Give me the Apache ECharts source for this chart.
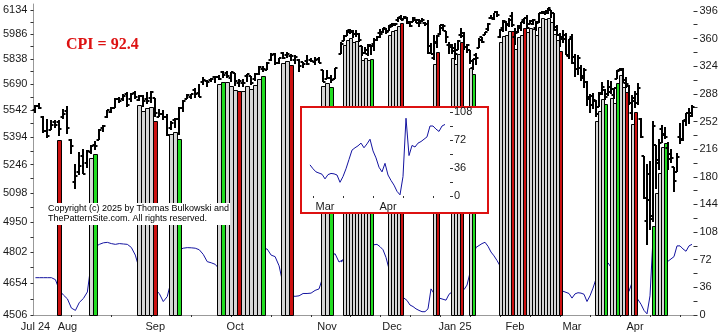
<!DOCTYPE html>
<html>
<head>
<meta charset="utf-8">
<script src="https://cdn.jsdelivr.net/npm/echarts@6/dist/echarts.min.js"></script>
<style>
html,body{margin:0;padding:0;background:#fff;}
#chart{width:725px;height:334px;}
</style>
</head>
<body>
<div id="chart"></div>
<script>
// ---------------- data ----------------
const monthLabels = ['Jul 24','Aug','Sep','Oct','Nov','Dec','Jan 25','Feb','Mar','Apr'];
const monthStart  = [0, 8, 30, 50, 73, 93, 114, 134, 153, 174];

const openP = [
5544,5565,5505,5429,5434,5476,5479,5505,5537,5376,
5152,5206,5293,5253,5312,5351,5376,5442,5502,5531,
5557,5603,5603,5637,5603,5640,5602,5624,5607,5613,
5612,5506,5524,5507,5442,5490,5496,5557,5603,5615,
5655,5641,5703,5709,5713,5733,5733,5762,5756,5727,
5757,5698,5698,5738,5737,5719,5752,5778,5775,5829,
5866,5816,5875,5859,5857,5833,5834,5817,5826,5831,
5819,5835,5775,5723,5725,5722,
5865,5947,5977,6009,6004,5986,5989,5913,5874,5866,
5920,5924,5949,5992,6000,6015,6003,6040,6042,6069,
6089,6081,6083,6057,6060,6074,6069,6063,6052,6047,
5912,5843,5941,5984,6024,6006,5921,5920,5903,5892,
5982,5993,5910,5890,5782,5859,5905,5967,5983,6014,
6082,6076,6121,5969,6026,6058,6050,6096,5969,5998,
6021,6072,6083,6047,6050,6025,6060,6115,6121,6117,
6134,6114,6027,5983,5970,5982,5857,5968,5812,5781,
5786,5726,5705,5604,5624,5594,5563,5636,5655,5632,
5646,5630,5718,5775,5771,5696,5679,5527,5597,5581,
5493,5292,4953,5194,4966,5353,5256,5441,5411,5335,
5305,5233,5207,5396,5381,5489,5529,5508];

const highP = [
5570,5585,5508,5492,5488,5487,5489,5551,5566,5384,
5250,5312,5330,5326,5351,5371,5436,5463,5546,5563,
5609,5620,5633,5643,5641,5651,5628,5628,5646,5651,
5613,5552,5546,5522,5484,5497,5560,5600,5637,5636,
5670,5690,5733,5716,5726,5736,5741,5767,5764,5762,
5757,5720,5718,5752,5739,5757,5796,5796,5822,5871,
5871,5842,5879,5878,5866,5863,5835,5817,5862,5842,
5848,5851,5775,5772,5741,5784,
5937,5983,6012,6018,6009,6009,5993,5916,5909,5925,
5921,5963,5973,6020,6025,6021,6044,6053,6052,6089,
6100,6099,6088,6065,6092,6079,6079,6085,6057,6070,
5935,5982,5978,6040,6049,6006,5941,5929,5935,5949,
6021,6001,5928,5890,5838,5871,5961,5968,6000,6051,
6100,6118,6128,6018,6069,6063,6086,6120,6022,6042,
6062,6084,6101,6073,6076,6063,6116,6127,6130,6147,
6134,6115,6043,5992,6009,5994,5959,5986,5865,5860,
5803,5784,5706,5636,5642,5598,5645,5703,5660,5715,
5711,5670,5775,5787,5783,5732,5685,5627,5651,5695,
5500,5293,5247,5267,5481,5353,5381,5460,5450,5367,
5329,5233,5309,5470,5489,5528,5554,5571];

const lowP = [
5528,5550,5419,5390,5434,5444,5398,5493,5410,5302,
5120,5193,5195,5228,5301,5324,5376,5420,5501,5525,
5555,5585,5592,5560,5590,5603,5594,5560,5576,5582,
5504,5503,5486,5402,5434,5442,5406,5535,5603,5604,
5614,5615,5687,5675,5704,5698,5712,5728,5727,5704,
5681,5675,5674,5703,5683,5709,5745,5762,5775,5824,
5804,5808,5835,5846,5825,5809,5762,5784,5799,5822,
5800,5813,5703,5723,5697,5722,
5865,5946,5976,5986,5960,5969,5941,5854,5866,5852,
5860,5885,5944,5963,5993,5985,6003,6030,6034,6062,
6075,6079,6048,6029,6059,6051,6029,6059,6035,5867,
5866,5832,5903,5983,6007,5932,5869,5868,5829,5888,
5960,5890,5874,5809,5773,5802,5905,5933,5978,6006,
6076,6075,6088,5962,6000,6003,6028,6030,5923,5991,
6007,6047,6020,6045,6042,6004,6051,6107,6100,6111,
6084,6008,5977,5908,5932,5858,5837,5810,5733,5743,
5711,5667,5566,5529,5547,5505,5563,5631,5598,5622,
5632,5603,5718,5765,5695,5670,5572,5489,5557,5571,
5390,5069,4835,4910,4950,5116,5220,5360,5386,5220,
5255,5101,5207,5357,5371,5455,5468,5505];

const closeP = [
5564,5555,5427,5399,5459,5463,5436,5522,5446,5346,
5186,5240,5199,5319,5344,5344,5434,5455,5543,5554,
5608,5597,5621,5571,5634,5616,5625,5592,5592,5648,
5529,5520,5503,5408,5471,5496,5554,5596,5626,5634,
5635,5618,5713,5703,5718,5732,5722,5745,5738,5762,
5709,5709,5700,5751,5696,5751,5792,5780,5815,5859,
5815,5843,5841,5864,5853,5851,5797,5809,5808,5823,
5832,5813,5705,5729,5712,5783,
5929,5973,5996,6001,5984,5985,5949,5871,5893,5917,
5917,5949,5969,5987,6021,5999,6032,6047,6050,6087,
6075,6090,6053,6034,6084,6051,6051,6074,6050,5872,
5867,5930,5974,6040,6037,5971,5907,5882,5869,5942,
5975,5909,5918,5827,5837,5843,5950,5937,5997,6049,
6086,6119,6101,6012,6068,6039,6071,6041,5994,6038,
6061,6084,6026,6066,6069,6052,6115,6115,6129,6144,
6117,6013,5983,5955,5956,5861,5955,5850,5778,5843,
5739,5770,5615,5572,5599,5522,5639,5675,5615,5675,
5663,5667,5768,5777,5712,5693,5581,5612,5633,5671,
5397,5074,5062,4982,5457,5268,5363,5406,5397,5276,
5283,5158,5288,5376,5485,5525,5529,5561];

// day markers: '.' none, 'g' gray, 'r' red, 'G' green
const marks =
  '......r.......gG..........ggggr...ggG.........' +
  'gGgggrgggggG....ggr.......ggG..' +
  'gggggggggG.....ggggr..........gr....gggr..gG........' +
  'ggggrgggrgggggggggggr...........gggG.ggGggr.gr.....GgggG.........';

const cpi = [
48.6,48.6,48.6,48.6,48.6,46,32,26,21,9,
6,16.5,21.5,30,70,89,92,94,94.6,93,
92,93,92.5,92,88,78,60,52,45,38,
33,28,17.5,24,45,70,85,87,87.7,87.5,
87,85,79,69.5,68,66,60,58,62,65,
60,58,65,70,74,78,82,86,86,78,
76,64,40,30,25,24.3,25,28,28,28.5,
32,34,50,65,75,80,
69,72,76,80,83,86,85,80,82,86,
89,91.5,92,89,85,75,60,48,38,30,
26,22,19,13,11,8,6,4.3,4.3,8,
34,28,24,21.7,20.5,19.3,27,30,31,32,
32,33,39,55,75,88,90.5,93,94.7,89.5,
82,77,71,64,60,62,65,70,72,75,
78,80,82,80,78,75,70,65,60,55,
48,44,
40,35,31,29.5,28,22,27.5,29,28.5,27,
17.6,25,35,47,59,62,64.5,68,62,67,
73,58,49,37,31,42,27,20,14,6,
1.5,25,100,52,65,63,68,70,73,76,
90,90,86,83,90,92];

const priceLabels = [4506,4654,4802,4950,5098,5246,5394,5542,5690,5838,5986,6134];
const cpiLabels   = [0,36,72,108,144,180,216,252,288,324,360,396];
const insetLabels = [0,36,72,108];
const cpiNow = 92.4;
const insetDays = 46;   // last days shown in the inset
const splitAt = 76;     // first day of the denser section (Nov 6)

// ---------------- chart build ----------------
const N = closeP.length;
const ln = Math.log;
const lnMin = ln(4506), lnMax = ln(6171);
const labelMap = {};
monthStart.forEach((g, i) => { labelMap[g] = monthLabels[i]; });
const isTick = g => (g + 1) % 10 === 0;
const colCode = { 'g': 1, 'r': 2, 'G': 3 };
const colFill = { 1: '#d6d6d6', 2: '#cc1111', 3: '#22dd22' };
const FONT = 'Liberation Sans, Arial, sans-serif';
const TXT = '#1a1a1a';

const catA = Array.from({ length: splitAt + 2 }, (_, i) => String(i));
const catB = Array.from({ length: N - splitAt }, (_, k) => String(splitAt + k));
const catI = Array.from({ length: insetDays }, (_, j) => String(N - insetDays + j));

function barsFor(from, to, off) {
  const out = [];
  for (let g = from; g < to; g++) out.push([g - off, ln(openP[g]), ln(highP[g]), ln(lowP[g]), ln(closeP[g])]);
  return out;
}
function colsFor(from, to, off) {
  const out = [];
  for (let g = from; g < to; g++) {
    const c = colCode[marks[g]];
    if (c) out.push([g - off, ln(lowP[g] * 0.996), c]);
  }
  return out;
}

function ohlcItem(params, api) {
  const i = api.value(0);
  const pO = api.coord([i, api.value(1)]);
  const pH = api.coord([i, api.value(2)]);
  const pL = api.coord([i, api.value(3)]);
  const pC = api.coord([i, api.value(4)]);
  const w = api.size([1, 0])[0];
  const x = Math.round(pH[0]);
  const t = w >= 4 ? 3 : 2.5;
  const yH = Math.round(pH[1]);
  const yL = Math.max(Math.round(pL[1]), yH + 2);
  const yO = Math.round(pO[1]), yC = Math.round(pC[1]);
  const st = { stroke: '#000', lineWidth: 2 };
  return { type: 'group', children: [
    { type: 'line', shape: { x1: x, y1: yH, x2: x, y2: yL }, style: st },
    { type: 'line', shape: { x1: x - t, y1: yO, x2: x, y2: yO }, style: st },
    { type: 'line', shape: { x1: x, y1: yC, x2: x + t, y2: yC }, style: st }
  ]};
}
function colItem(params, api) {
  const i = api.value(0);
  const top = api.coord([i, api.value(1)]);
  const base = api.coord([i, lnMin]);
  const w = api.size([1, 0])[0];
  const x0 = Math.round(top[0] - w / 2 + 0.001) + 0.5;
  const y0 = Math.round(top[1]) + 0.5;
  const y1 = Math.round(base[1]) + 0.5;
  return { type: 'rect', shape: { x: x0, y: y0, width: w, height: y1 - y0 },
           style: { fill: colFill[api.value(2)], stroke: '#000', lineWidth: 1 } };
}

const half = [];
for (let k = 0; k < priceLabels.length * 2 - 1; k++) half.push(ln(4506 + 74 * k));
const cpiMinor = []; for (let v = 0; v <= 396; v += 18) cpiMinor.push(v);
const insetMinor = []; for (let v = 0; v <= 108; v += 18) insetMinor.push(v);

function catX(grid, data, off, extra) {
  return Object.assign({
    type: 'category', gridIndex: grid, data: data, boundaryGap: true,
    axisLine: { show: false }, splitLine: { show: false },
    axisTick: { show: true, alignWithLabel: true, length: 2, interval: (idx) => isTick(off + idx),
                lineStyle: { color: '#333', width: 1 } },
    axisLabel: { show: true, interval: (idx) => labelMap[off + idx] !== undefined,
                 formatter: (v) => labelMap[+v] || '', fontSize: 11, color: TXT, fontFamily: FONT, margin: 5 },
    offset: 1
  }, extra || {});
}

const option = {
  animation: false,
  textStyle: { fontFamily: FONT },
  title: [
    { text: 'CPI = ' + cpiNow, left: 66, top: 37, padding: 0,
      textStyle: { fontFamily: 'Liberation Serif, Times New Roman, serif', fontWeight: 'bold', fontSize: 16, lineHeight: 16, color: '#dd1111' } },
    { text: 'Copyright (c) 2025 by Thomas Bulkowski and\nThePatternSite.com. All rights reserved.',
      left: 47, top: 203, padding: 1, backgroundColor: '#ffffff', z: 20,
      textStyle: { fontFamily: FONT, fontWeight: 'normal', fontSize: 9, lineHeight: 10, color: '#000' } }
  ],
  grid: [
    { left: 33, top: 4, width: 312, height: 311 },
    { left: 339.5, top: 4, width: 354, height: 311 },
    { left: 33, top: 4, width: 661, height: 311 },
    { left: 310, top: 112, width: 135, height: 84 }
  ],
  xAxis: [
    catX(0, catA, 0),
    catX(1, catB, splitAt),
    { type: 'value', gridIndex: 2, position: 'top', min: 0, max: 1,
      axisLine: { show: true, lineStyle: { color: '#999', width: 1 } },
      axisTick: { show: false }, axisLabel: { show: false }, splitLine: { show: false } },
    catX(3, catI, N - insetDays, { boundaryGap: false, z: 110, offset: 0,
      axisLabel: { show: true, interval: (idx) => labelMap[N - insetDays + idx] !== undefined,
                   formatter: (v) => labelMap[+v] || '', fontSize: 11, color: TXT, fontFamily: FONT, margin: 5 } })
  ],
  yAxis: [
    { type: 'value', gridIndex: 0, position: 'left', min: lnMin, max: lnMax,
      axisLine: { show: false }, splitLine: { show: false },
      axisTick: { show: true, length: 3, customValues: half, lineStyle: { color: '#333' } },
      axisLabel: { show: true, customValues: priceLabels.map(v => ln(v)), margin: 6,
                   formatter: v => String(Math.round(Math.exp(v))), fontSize: 11, color: TXT, fontFamily: FONT } },
    { type: 'value', gridIndex: 0, min: 0, max: 405, show: false },
    { type: 'value', gridIndex: 1, min: lnMin, max: lnMax, show: false },
    { type: 'value', gridIndex: 1, position: 'right', min: 0, max: 405,
      axisLine: { show: false }, splitLine: { show: false },
      axisTick: { show: true, length: 4, customValues: cpiMinor, lineStyle: { color: '#333' } },
      axisLabel: { show: true, customValues: cpiLabels, margin: 6, fontSize: 11, color: TXT, fontFamily: FONT } },
    { type: 'value', gridIndex: 2, position: 'left', min: 0, max: 1,
      axisLine: { show: true, lineStyle: { color: '#999', width: 1 } },
      axisTick: { show: false }, axisLabel: { show: false }, splitLine: { show: false } },
    { type: 'value', gridIndex: 3, position: 'right', min: 0, max: 108, offset: 5, z: 110,
      axisLine: { show: false }, splitLine: { show: false },
      axisTick: { show: true, length: 3, customValues: insetMinor, lineStyle: { color: '#333' } },
      axisLabel: { show: true, customValues: insetLabels, margin: 4, fontSize: 11, color: TXT, fontFamily: FONT } }
  ],
  graphic: [
    { type: 'rect', z: 100, shape: { x: 301, y: 107, width: 187, height: 106 },
      style: { fill: '#ffffff', stroke: '#dd1111', lineWidth: 2 } }
  ],
  series: [
    { type: 'line', xAxisIndex: 0, yAxisIndex: 1, data: cpi.slice(0, splitAt + 2), showSymbol: false, silent: true,
      lineStyle: { color: '#1414a0', width: 1 }, z: 1 },
    { type: 'line', xAxisIndex: 1, yAxisIndex: 3, data: cpi.slice(splitAt), showSymbol: false, silent: true,
      lineStyle: { color: '#1414a0', width: 1 }, z: 1 },
    { type: 'custom', xAxisIndex: 0, yAxisIndex: 0, data: colsFor(0, splitAt, 0), renderItem: colItem, z: 2, silent: true },
    { type: 'custom', xAxisIndex: 1, yAxisIndex: 2, data: colsFor(splitAt, N, splitAt), renderItem: colItem, z: 2, silent: true },
    { type: 'custom', xAxisIndex: 0, yAxisIndex: 0, data: barsFor(0, splitAt, 0), renderItem: ohlcItem, z: 3, silent: true },
    { type: 'custom', xAxisIndex: 1, yAxisIndex: 2, data: barsFor(splitAt, N, splitAt), renderItem: ohlcItem, z: 3, silent: true },
    { type: 'line', xAxisIndex: 3, yAxisIndex: 5, data: cpi.slice(N - insetDays), showSymbol: false, silent: true,
      lineStyle: { color: '#1414a0', width: 1 }, z: 110 }
  ]
};

const chart = echarts.init(document.getElementById('chart'), null, { renderer: 'canvas' });
chart.setOption(option);
</script>
</body>
</html>
